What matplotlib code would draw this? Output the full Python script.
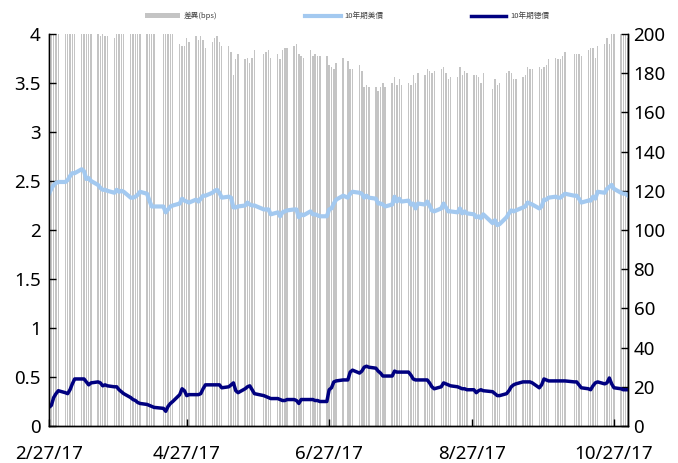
import numpy as np
import pandas as pd
import matplotlib
matplotlib.use('Agg')
import matplotlib.pyplot as plt

plt.rcParams['font.family'] = ['Noto Sans', 'Noto Sans CJK TC', 'DejaVu Sans']

# 營業日 (美國假日除外)
holidays = ["2017-04-14", "2017-05-29", "2017-07-04", "2017-09-04", "2017-10-09"]
dates = pd.bdate_range("2017-02-27", "2017-11-02")
dates = dates[~dates.isin(pd.to_datetime(holidays))]

# 10年期美債 (%)
us10y = [2.37, 2.42, 2.46, 2.48, 2.49,
         2.49, 2.51, 2.55, 2.58, 2.58,
         2.62, 2.60, 2.52, 2.53, 2.50,
         2.46, 2.43, 2.41, 2.41, 2.40,
         2.38, 2.41, 2.39, 2.40, 2.39,
         2.33, 2.33, 2.34, 2.36, 2.39,
         2.37, 2.30, 2.24, 2.24,
         2.24, 2.18, 2.21, 2.24, 2.25,
         2.27, 2.32, 2.30, 2.29, 2.28,
         2.31, 2.29, 2.32, 2.35, 2.35,
         2.38, 2.40, 2.41, 2.38, 2.33,
         2.34, 2.33, 2.23, 2.23, 2.24,
         2.25, 2.28, 2.26, 2.25, 2.25,
         2.21, 2.21, 2.21, 2.16,
         2.18, 2.14, 2.18, 2.19, 2.20,
         2.21, 2.21, 2.13, 2.16, 2.15,
         2.19, 2.16, 2.16, 2.15, 2.14,
         2.14, 2.21, 2.22, 2.27, 2.31,
         2.35, 2.33, 2.37, 2.39,
         2.38, 2.37, 2.33, 2.35, 2.33,
         2.32, 2.27, 2.27, 2.26, 2.24,
         2.26, 2.34, 2.29, 2.32, 2.29,
         2.30, 2.26, 2.27, 2.22, 2.27,
         2.26, 2.29, 2.25, 2.20, 2.19,
         2.22, 2.27, 2.23, 2.19, 2.19,
         2.18, 2.22, 2.17, 2.19, 2.17,
         2.16, 2.13, 2.14, 2.12, 2.16,
         2.07, 2.10, 2.05, 2.06,
         2.13, 2.17, 2.20, 2.19, 2.20,
         2.23, 2.24, 2.28, 2.27, 2.26,
         2.22, 2.24, 2.31, 2.31, 2.33,
         2.34, 2.33, 2.33, 2.35, 2.37,
         2.35, 2.35, 2.32, 2.28,
         2.30, 2.30, 2.34, 2.32, 2.39,
         2.38, 2.42, 2.44, 2.46, 2.42,
         2.38, 2.37, 2.37, 2.35]

# 10年期德債 (%)
de10y = [0.19, 0.21, 0.29, 0.33, 0.36,
         0.34, 0.33, 0.37, 0.43, 0.48,
         0.48, 0.48, 0.45, 0.42, 0.44,
         0.45, 0.44, 0.41, 0.42, 0.41,
         0.40, 0.40, 0.37, 0.35, 0.33,
         0.29, 0.27, 0.26, 0.24, 0.23,
         0.22, 0.21, 0.20, 0.19,
         0.18, 0.15, 0.20, 0.23, 0.25,
         0.32, 0.38, 0.36, 0.31, 0.32,
         0.32, 0.32, 0.33, 0.38, 0.42,
         0.42, 0.42, 0.42, 0.42, 0.39,
         0.40, 0.42, 0.44, 0.36, 0.34,
         0.38, 0.40, 0.41, 0.37, 0.33,
         0.31, 0.30, 0.29, 0.28,
         0.28, 0.27, 0.26, 0.26, 0.27,
         0.27, 0.26, 0.23, 0.27, 0.27,
         0.27, 0.27, 0.26, 0.26, 0.25,
         0.25, 0.37, 0.39, 0.45, 0.46,
         0.47, 0.47, 0.55, 0.57,
         0.54, 0.56, 0.60, 0.61, 0.60,
         0.59, 0.56, 0.54, 0.51, 0.51,
         0.51, 0.56, 0.55, 0.55, 0.55,
         0.55, 0.52, 0.48, 0.47, 0.47,
         0.47, 0.47, 0.44, 0.40, 0.38,
         0.40, 0.44, 0.43, 0.42, 0.41,
         0.40, 0.39, 0.38, 0.38, 0.37,
         0.37, 0.34, 0.36, 0.37, 0.36,
         0.35, 0.33, 0.31, 0.31,
         0.33, 0.36, 0.40, 0.42, 0.43,
         0.45, 0.45, 0.45, 0.45, 0.44,
         0.39, 0.42, 0.48, 0.47, 0.46,
         0.46, 0.46, 0.46, 0.46, 0.46,
         0.45, 0.45, 0.42, 0.39,
         0.38, 0.37, 0.41, 0.44, 0.45,
         0.43, 0.44, 0.49, 0.43, 0.39,
         0.38, 0.37, 0.37, 0.37]

# 差異(bps)
spread = (np.array(us10y) - np.array(de10y)) * 100

tick_dates = ["2017-02-27", "2017-04-27", "2017-06-27", "2017-08-27", "2017-10-27"]
tick_labels = ["2/27/17", "4/27/17", "6/27/17", "8/27/17", "10/27/17"]

fig = plt.figure(figsize=(6.78, 4.63), dpi=100)
ax = fig.add_axes([49/678, 37/463, 579/678, 392/463])
ax2 = ax.twinx()

b = ax2.bar(dates, spread, width=0.6, color='#c4c4c4', linewidth=0, label='差異(bps)')
l1, = ax.plot(dates, us10y, color='#a3c9f0', lw=3.0, label='10年期美債')
l2, = ax.plot(dates, de10y, color='#000080', lw=2.5, label='10年期德債')

ax.set_zorder(ax2.get_zorder() + 1)
ax.patch.set_visible(False)

ax.set_ylim(0, 4)
ax.set_yticks(np.arange(0, 4.01, 0.5))
ax.set_yticklabels(['0', '0.5', '1', '1.5', '2', '2.5', '3', '3.5', '4'])
ax2.set_ylim(0, 200)
ax2.set_yticks(np.arange(0, 201, 20))

ax.set_xlim(pd.Timestamp("2017-02-27"), pd.Timestamp("2017-11-02"))
ax.set_xticks(pd.to_datetime(tick_dates))
ax.set_xticklabels(tick_labels)

for a in (ax, ax2):
    a.spines['top'].set_visible(False)
    for s in ('left', 'right', 'bottom'):
        a.spines[s].set_color('black')
        a.spines[s].set_linewidth(1.0)
ax.tick_params(axis='y', direction='in', length=5, width=1, labelsize=13.5, pad=6)
ax.tick_params(axis='x', direction='in', length=5, width=1, labelsize=13.5, pad=14)
ax2.tick_params(axis='y', direction='in', length=5, width=1, labelsize=13.5, pad=4)

fig.legend(handles=[b, l1, l2], loc='center', bbox_to_anchor=(0.512, 0.965), ncol=3,
           frameon=False, handlelength=4.6, handleheight=0.6,
           handletextpad=0.5, columnspacing=11.5, labelcolor='#404040',
           prop={'family': ['Noto Sans CJK TC', 'DejaVu Sans'], 'size': 5.5})

fig.savefig('out.png', dpi=100)
